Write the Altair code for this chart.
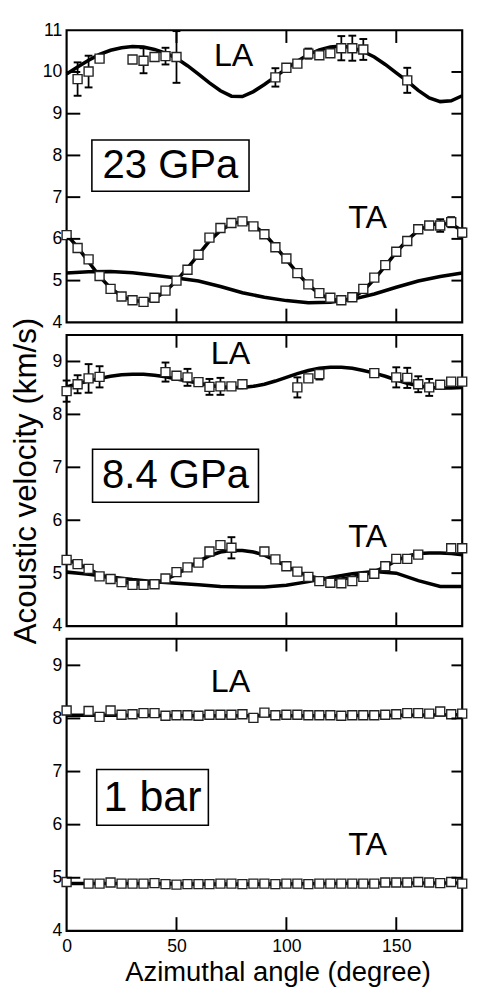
import altair as alt
import pandas as pd

FONT = "Liberation Sans"

# ---------------- data ----------------
ANG5 = [0, 5, 10, 15, 20, 25, 30, 35, 40, 45, 50, 55, 60, 65, 70, 75, 80, 85, 90,
        95, 100, 105, 110, 115, 120, 125, 130, 135, 140, 145, 150, 155, 160, 165,
        170, 175, 180]
ANG10 = [0, 10, 20, 30, 40, 50, 60, 70, 80, 90, 100, 110, 120, 130, 140, 150, 160, 170, 180]
ANG30 = [0, 30, 60, 90, 120, 150, 180]

# --- 23 GPa ---
p23_la_fit = [9.95, 10.12, 10.28, 10.42, 10.52, 10.58, 10.61, 10.60, 10.54, 10.45, 10.33,
              10.15, 9.95, 9.74, 9.55, 9.42, 9.41, 9.53, 9.70, 9.89, 10.08, 10.26, 10.42,
              10.53, 10.60, 10.62, 10.58, 10.49, 10.36, 10.18, 9.98, 9.78, 9.56, 9.38,
              9.29, 9.31, 9.43]
p23_ta_fit = [6.10, 5.80, 5.45, 5.10, 4.82, 4.63, 4.52, 4.50, 4.57, 4.74, 5.00, 5.30, 5.62,
              5.95, 6.20, 6.36, 6.42, 6.33, 6.12, 5.82, 5.50, 5.18, 4.90, 4.68, 4.55, 4.52,
              4.58, 4.76, 5.03, 5.35, 5.68, 5.97, 6.20, 6.33, 6.37, 6.35, 6.20]
p23_ta_flat = [5.18, 5.21, 5.22, 5.19, 5.13, 5.06, 4.99, 4.86, 4.71, 4.60, 4.52, 4.47, 4.48,
               4.55, 4.68, 4.84, 4.99, 5.10, 5.18]
p23_la_deg = [5, 10, 15, 30, 35, 40, 45, 50, 95, 100, 105, 110, 115, 120, 125, 130, 135, 155]
p23_la_v = [9.83, 10.01, 10.32, 10.30, 10.27, 10.36, 10.38, 10.36, 9.87, 10.10, 10.20, 10.44,
            10.40, 10.45, 10.57, 10.57, 10.54, 9.80]
p23_la_err = [0.40, 0.38, 0.08, 0, 0.30, 0.06, 0.20, 0.62, 0.22, 0, 0, 0.12, 0, 0, 0.29,
              0.30, 0.25, 0.30]
p23_ta_v = [6.09, 5.78, 5.51, 5.11, 4.80, 4.62, 4.53, 4.49, 4.59, 4.76, 5.00, 5.26, 5.62,
            6.03, 6.26, 6.38, 6.42, 6.30, 6.11, 5.80, 5.53, 5.18, 4.91, 4.70, 4.59, 4.53,
            4.60, 4.80, 5.07, 5.37, 5.69, 5.95, 6.23, 6.32, 6.32, 6.40, 6.15]
p23_ta_err = [0.06, 0, 0, 0, 0, 0, 0, 0, 0, 0, 0, 0, 0, 0, 0, 0, 0, 0, 0, 0, 0, 0, 0, 0, 0,
              0, 0, 0, 0, 0, 0, 0, 0, 0, 0.15, 0.12, 0.10]

# --- 8.4 GPa ---
p84_la_fit = [8.52, 8.58, 8.63, 8.68, 8.72, 8.75, 8.76, 8.76, 8.74, 8.71, 8.67, 8.63, 8.59,
              8.55, 8.52, 8.51, 8.51, 8.53, 8.57, 8.63, 8.70, 8.77, 8.83, 8.87, 8.89, 8.89,
              8.87, 8.83, 8.78, 8.72, 8.65, 8.59, 8.54, 8.51, 8.50, 8.50, 8.51]
p84_ta_fit = [5.25, 5.18, 5.08, 4.97, 4.90, 4.84, 4.80, 4.79, 4.81, 4.88, 4.98, 5.10, 5.22,
              5.33, 5.40, 5.43, 5.43, 5.40, 5.34, 5.24, 5.13, 5.03, 4.95, 4.90, 4.88, 4.89,
              4.92, 4.96, 5.03, 5.12, 5.24, 5.32, 5.37, 5.38, 5.38, 5.37, 5.35]
p84_ta_flat = [5.02, 4.98, 4.93, 4.88, 4.84, 4.81, 4.78, 4.75, 4.74, 4.74, 4.77, 4.84, 4.92,
               4.99, 5.03, 5.00, 4.86, 4.75, 4.75]
p84_la_deg = [0, 5, 10, 15, 45, 50, 55, 60, 65, 70, 75, 80, 105, 110, 115, 140, 150, 155,
              160, 165, 170, 175, 180]
p84_la_v = [8.44, 8.57, 8.68, 8.71, 8.80, 8.73, 8.70, 8.61, 8.52, 8.53, 8.53, 8.57, 8.51,
            8.68, 8.76, 8.78, 8.70, 8.69, 8.57, 8.51, 8.56, 8.62, 8.62]
p84_la_err = [0.20, 0.17, 0.27, 0.20, 0.18, 0.05, 0.16, 0, 0.15, 0.16, 0.06, 0.05, 0.19,
              0.05, 0.10, 0, 0.19, 0.19, 0.15, 0.16, 0, 0, 0]
p84_ta_deg = [0, 5, 10, 15, 20, 25, 30, 35, 40, 45, 50, 55, 60, 65, 70, 75, 90, 95, 100,
              105, 110, 115, 120, 125, 130, 135, 140, 145, 150, 155, 160, 175, 180]
p84_ta_v = [5.25, 5.17, 5.08, 4.94, 4.89, 4.83, 4.78, 4.78, 4.79, 4.90, 5.02, 5.11, 5.20,
            5.41, 5.53, 5.48, 5.41, 5.26, 5.13, 5.03, 4.93, 4.85, 4.82, 4.81, 4.85, 4.93,
            4.99, 5.13, 5.27, 5.27, 5.35, 5.47, 5.47]
p84_ta_err = [0.05, 0, 0, 0, 0, 0, 0, 0, 0, 0, 0, 0, 0, 0, 0, 0.20, 0, 0, 0, 0, 0, 0, 0, 0,
              0, 0, 0, 0, 0, 0, 0, 0.06, 0.06]

# --- 1 bar ---
p1_la_fit = [8.06, 8.06, 8.05, 8.05, 8.05, 8.06, 8.07]
p1_ta_fit = [4.89, 4.89, 4.88, 4.88, 4.89, 4.90, 4.90]
p1_deg = [0, 10, 15, 20, 25, 30, 35, 40, 45, 50, 55, 60, 65, 70, 75, 80, 85, 90, 95, 100,
          105, 110, 115, 120, 125, 130, 135, 140, 145, 150, 155, 160, 165, 170, 175, 180]
p1_la_v = [8.15, 8.14, 8.03, 8.15, 8.07, 8.08, 8.10, 8.10, 8.05, 8.06, 8.06, 8.05, 8.07,
           8.07, 8.07, 8.08, 8.01, 8.11, 8.06, 8.07, 8.07, 8.06, 8.06, 8.06, 8.05, 8.06,
           8.06, 8.06, 8.07, 8.08, 8.10, 8.10, 8.09, 8.13, 8.08, 8.09]
p1_ta_v = [4.92, 4.89, 4.89, 4.91, 4.89, 4.89, 4.89, 4.90, 4.88, 4.87, 4.88, 4.88, 4.88,
           4.89, 4.89, 4.88, 4.89, 4.89, 4.88, 4.89, 4.89, 4.88, 4.89, 4.89, 4.89, 4.89,
           4.89, 4.89, 4.91, 4.91, 4.91, 4.92, 4.91, 4.90, 4.92, 4.89]
p1_la_err = [0, 0, 0, 0.05, 0, 0.04, 0, 0, 0, 0, 0, 0, 0, 0, 0, 0, 0, 0, 0, 0, 0, 0, 0, 0,
             0, 0, 0, 0, 0, 0, 0, 0, 0, 0, 0, 0]

X_TICKS = [50, 100, 150]

# ---------------- layout constants ----------------
W = 405
HEIGHTS = [299, 298, 299]


def fit_frame(curves):
    rows = []
    for cid, (degs, vals) in enumerate(curves):
        for d, v in zip(degs, vals):
            rows.append({"deg": d, "v": v, "c": cid})
    return pd.DataFrame(rows)


def pts_frame(degs, vals, errs=None):
    if errs is None:
        errs = [0] * len(degs)
    return pd.DataFrame({"deg": degs, "v": vals, "err": errs,
                         "lo": [v - e for v, e in zip(vals, errs)],
                         "hi": [v + e for v, e in zip(vals, errs)]})


def panel(curves, pts_list, ymax, yvals, box, box_text, box_size, la_pos, ta_pos,
          H, show_x=False, ytitle=None):
    xs = alt.Scale(domain=[0, 180], nice=False, zero=False)
    ys = alt.Scale(domain=[4, ymax], nice=False, zero=False)
    if show_x:
        xaxis = alt.Axis(values=[0, 50, 100, 150], ticks=False, domain=False, grid=False,
                         labelPadding=7, labelFontSize=18, labelFlush=False,
                         title="Azimuthal angle (degree)", titleFontSize=28,
                         titlePadding=4, titleX=216)
    else:
        xaxis = None
    yaxis = alt.Axis(values=yvals, ticks=False, domain=False, grid=False, labelPadding=5,
                     labelFontSize=18, labelFlush=False,
                     title=ytitle if ytitle else None, titleFontSize=32, titlePadding=10)

    def X(f="deg"):
        return alt.X(f + ":Q", scale=xs, axis=xaxis)

    def Y(f="v"):
        return alt.Y(f + ":Q", scale=ys, axis=yaxis)

    layers = []
    # pressure box
    bdf = pd.DataFrame([{"deg": box[0], "deg2": box[1], "v": box[2], "v2": box[3],
                         "cx": (box[0] + box[1]) / 2, "cy": (box[2] + box[3]) / 2,
                         "t": box_text}])
    layers.append(alt.Chart(bdf).mark_rect(fill="white", stroke="black", strokeWidth=1.6)
                  .encode(x=X(), x2="deg2:Q", y=Y(), y2="v2:Q"))
    layers.append(alt.Chart(bdf).mark_text(font=FONT, fontSize=box_size, color="black",
                                           align="center", baseline="middle", dy=1)
                  .encode(x=X("cx"), y=Y("cy"), text="t:N"))
    # fit curves
    fdf = fit_frame(curves)
    layers.append(alt.Chart(fdf).mark_line(color="black", strokeWidth=3.6)
                  .encode(x=X(), y=Y(), detail="c:N"))
    # data points with error bars
    for pdf in pts_list:
        edf = pdf[pdf["err"] > 0]
        if len(edf):
            layers.append(alt.Chart(edf).mark_rule(color="black", strokeWidth=1.8)
                          .encode(x=X(), y=Y("lo"), y2="hi:Q"))
            for f in ["lo", "hi"]:
                layers.append(alt.Chart(edf).mark_rule(color="black", strokeWidth=2,
                                                       xOffset=-4, x2Offset=4)
                              .encode(x=X(), x2="deg:Q", y=Y(f)))
        layers.append(alt.Chart(pdf).mark_point(shape="square", size=85, filled=True,
                                                fill="white", stroke="#222222",
                                                strokeWidth=1.4, opacity=1)
                      .encode(x=X(), y=Y()))
    # LA / TA labels
    ldf = pd.DataFrame([{"deg": la_pos[0], "v": la_pos[1], "t": "LA"},
                        {"deg": ta_pos[0], "v": ta_pos[1], "t": "TA"}])
    layers.append(alt.Chart(ldf).mark_text(font=FONT, fontSize=33, color="black",
                                           align="center", baseline="middle")
                  .encode(x=X(), y=Y(), text="t:N"))
    # inward ticks
    inner = [v for v in yvals if 4 < v < ymax]
    tdf = pd.DataFrame({"v": inner})
    layers.append(alt.Chart(tdf).mark_rule(color="black", strokeWidth=2)
                  .encode(y=Y(), x=alt.value(0), x2=alt.value(14)))
    layers.append(alt.Chart(tdf).mark_rule(color="black", strokeWidth=2)
                  .encode(y=Y(), x=alt.value(W - 11), x2=alt.value(W)))
    xdf = pd.DataFrame({"deg": X_TICKS})
    layers.append(alt.Chart(xdf).mark_rule(color="black", strokeWidth=2)
                  .encode(x=X(), y=alt.value(0), y2=alt.value(13)))
    layers.append(alt.Chart(xdf).mark_rule(color="black", strokeWidth=2)
                  .encode(x=X(), y=alt.value(H - 14), y2=alt.value(H)))
    return alt.layer(*layers).properties(width=W, height=H)


top = panel(
    curves=[(ANG5, p23_la_fit), (ANG5, p23_ta_fit), (ANG10, p23_ta_flat)],
    pts_list=[pts_frame(p23_la_deg, p23_la_v, p23_la_err),
              pts_frame(ANG5, p23_ta_v, p23_ta_err)],
    ymax=11, yvals=[4, 5, 6, 7, 8, 9, 10, 11],
    box=(11.5, 83, 8.37, 7.14), box_text="23 GPa", box_size=41,
    la_pos=(76, 10.37), ta_pos=(137, 6.5), H=HEIGHTS[0])

mid = panel(
    curves=[(ANG5, p84_la_fit), (ANG5, p84_ta_fit), (ANG10, p84_ta_flat)],
    pts_list=[pts_frame(p84_la_deg, p84_la_v, p84_la_err),
              pts_frame(p84_ta_deg, p84_ta_v, p84_ta_err)],
    ymax=9.5, yvals=[4, 5, 6, 7, 8, 9],
    box=(11.8, 87.3, 7.34, 6.34), box_text="8.4 GPa", box_size=41,
    la_pos=(74.6, 9.13), ta_pos=(137, 5.67), H=HEIGHTS[1],
    ytitle="Acoustic velocity (km/s)")

bot = panel(
    curves=[(ANG30, p1_la_fit), (ANG30, p1_ta_fit)],
    pts_list=[pts_frame(p1_deg, p1_la_v, p1_la_err), pts_frame(p1_deg, p1_ta_v)],
    ymax=9.5, yvals=[4, 5, 6, 7, 8, 9],
    box=(13.7, 64.5, 7.04, 5.99), box_text="1 bar", box_size=44,
    la_pos=(74.6, 8.69), ta_pos=(137, 5.61), H=HEIGHTS[2], show_x=True)

chart = (
    alt.vconcat(top, mid, bot, spacing=13, bounds="flush")
    .properties(padding={"left": 0, "top": 0, "right": 0, "bottom": 0})
    .configure_view(stroke="black", strokeWidth=2.2)
    .configure_axis(labelFont=FONT, titleFont=FONT, labelColor="black",
                    titleColor="black", titleFontWeight="normal")
)

chart.save("out.html", embed_options={"renderer": "svg", "actions": False})
